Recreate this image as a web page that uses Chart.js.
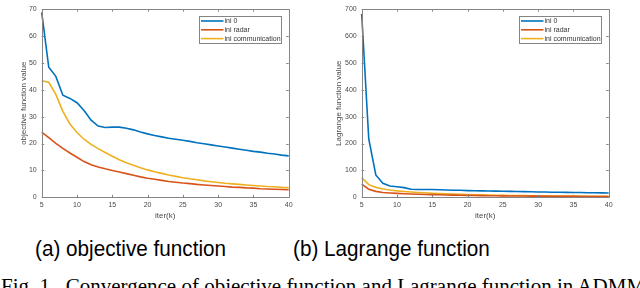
<!DOCTYPE html>
<html>
<head>
<meta charset="utf-8">
<script src="https://cdn.jsdelivr.net/npm/chart.js@4.4.0/dist/chart.umd.min.js"></script>
<style>
  body { margin: 0; background: #fff; width: 640px; height: 288px; overflow: hidden; position: relative; }
  canvas { position: absolute; top: 0; }
  .cap { position: absolute; font-family: "Liberation Sans", Arial, sans-serif; font-size: 22.5px; line-height: 1; color: #000; white-space: nowrap; transform-origin: 0 0; transform: scaleX(0.92); }
  .fig { position: absolute; font-family: "Liberation Serif", "Times New Roman", serif; font-size: 20px; line-height: 1; color: #000; white-space: nowrap; transform-origin: 0 0; transform: scaleX(1.05); }
</style>
</head>
<body>
<div style="position:absolute;left:0;top:0;width:320px;height:222px"><canvas id="objChart"></canvas></div>
<div style="position:absolute;left:320px;top:0;width:320px;height:222px"><canvas id="lagChart"></canvas></div>
<div class="cap" style="left:35px;top:238px">(a) objective function</div>
<div class="cap" style="left:293px;top:238px">(b) Lagrange function</div>
<div class="fig" style="left:1px;top:276px">Fig. 1.&nbsp;&nbsp;Convergence of objective function and Lagrange function in ADMM</div>
<script>
const iters = [5, 6, 7, 8, 9, 10, 11, 12, 13, 14, 15, 16, 17, 18, 19, 20, 21, 22,
  23, 24, 25, 26, 27, 28, 29, 30, 31, 32, 33, 34, 35, 36, 37, 38, 39, 40];

const seriesNames = ["ini 0", "ini radar", "ini communication"];

// (a) objective function value
const objIni0 = [68.8, 48.4, 45.0, 38.0, 36.8, 35.2, 32.3, 28.7, 26.5, 26.0, 26.1, 26.1,
  25.7, 25.1, 24.3, 23.6, 23.0, 22.5, 22.0, 21.6, 21.2, 20.8, 20.3, 19.9, 19.5, 19.1,
  18.7, 18.3, 17.9, 17.5, 17.1, 16.8, 16.4, 16.1, 15.7, 15.4];
const objRadar = [24.3, 22.2, 20.1, 18.2, 16.5, 14.9, 13.3, 12.1, 11.3, 10.6, 10.0, 9.4,
  8.8, 8.2, 7.6, 7.1, 6.7, 6.3, 5.9, 5.6, 5.3, 5.1, 4.8, 4.6, 4.4, 4.2, 4.0, 3.8, 3.7,
  3.5, 3.4, 3.2, 3.1, 3.0, 2.9, 2.8];
const objComm = [43.4, 42.8, 38.3, 32.0, 27.3, 24.1, 21.6, 19.7, 18.1, 16.7, 15.3, 14.0,
  12.9, 11.9, 11.0, 10.2, 9.5, 8.9, 8.3, 7.8, 7.3, 6.9, 6.5, 6.1, 5.8, 5.5, 5.2, 5.0,
  4.8, 4.6, 4.4, 4.2, 4.0, 3.9, 3.7, 3.6];

// (b) Lagrange function value
const lagIni0 = [682, 217, 83, 52, 42, 39, 36, 30, 29, 29, 29, 28, 27, 26.5, 26, 25,
  24.5, 24, 23.5, 23, 22.5, 22, 21.5, 21, 20.5, 20, 19.5, 19, 18.8, 18.4, 18, 17.6,
  17.2, 16.8, 16.4, 16];
const lagRadar = [49, 30, 22, 18, 16, 14.5, 13, 12, 11.3, 10.6, 10, 9.4, 8.8, 8.2,
  7.6, 7.1, 6.7, 6.3, 5.9, 5.6, 5.3, 5.1, 4.8, 4.6, 4.4, 4.2, 4, 3.8, 3.7, 3.5, 3.4,
  3.2, 3.1, 3, 2.9, 2.8];
const lagComm = [73, 47, 37, 31, 27, 24, 21.6, 19.7, 18.1, 16.7, 15.3, 14, 12.9, 11.9,
  11, 10.2, 9.5, 8.9, 8.3, 7.8, 7.3, 6.9, 6.5, 6.1, 5.8, 5.5, 5.2, 5, 4.8, 4.6, 4.4,
  4.2, 4, 3.9, 3.7, 3.6];

const xTicks = [5, 10, 15, 20, 25, 30, 35, 40];
const objYTicks = [0, 10, 20, 30, 40, 50, 60, 70];
const lagYTicks = [0, 100, 200, 300, 400, 500, 600, 700];

const lineColors = ["#0072BD", "#D95319", "#EDB120"];
const axisColor = "#858585";
const labelColor = "#4a4a4a";
const font = "Liberation Sans, Arial, sans-serif";

// MATLAB-like box, inward ticks and legend
const matlabBox = {
  id: "matlabBox",
  afterDraw: chart => {
    const ctx = chart.ctx;
    const a = chart.chartArea;
    const xs = chart.scales.x;
    const ys = chart.scales.y;

    ctx.save();
    ctx.strokeStyle = axisColor;
    ctx.lineWidth = 1;
    ctx.beginPath();
    ctx.rect(Math.round(a.left) + 0.5, Math.round(a.top) + 0.5,
      Math.round(a.right - a.left), Math.round(a.bottom - a.top));
    xs.ticks.forEach(t => {
      const x = Math.round(xs.getPixelForValue(t.value)) + 0.5;
      ctx.moveTo(x, a.bottom); ctx.lineTo(x, a.bottom - 2.5);
      ctx.moveTo(x, a.top); ctx.lineTo(x, a.top + 2.5);
    });
    ys.ticks.forEach(t => {
      const y = Math.round(ys.getPixelForValue(t.value)) + 0.5;
      ctx.moveTo(a.left, y); ctx.lineTo(a.left + 2.5, y);
      ctx.moveTo(a.right, y); ctx.lineTo(a.right - 2.5, y);
    });
    ctx.stroke();

    // legend
    const bx = Math.round(a.right) - 89.5, by = Math.round(a.top) + 7.5;
    const bw = 82, bh = 27;
    ctx.fillStyle = "#fff";
    ctx.fillRect(bx, by, bw, bh);
    ctx.strokeStyle = axisColor;
    ctx.strokeRect(bx, by, bw, bh);
    ctx.font = "7px " + font;
    ctx.textBaseline = "middle";
    chart.data.datasets.forEach((ds, i) => {
      const y = by + 4.5 + i * 8.8;
      ctx.strokeStyle = ds.borderColor;
      ctx.lineWidth = 1.6;
      ctx.beginPath();
      ctx.moveTo(bx + 1.5, y); ctx.lineTo(bx + 24, y);
      ctx.stroke();
      ctx.fillStyle = "#333";
      ctx.fillText(ds.label, bx + 25, y);
    });
    ctx.restore();
  }
};

// titleLeft: space left of the y title, so the title centre lands where the original has it
function makeChart(id, series, yTicks, yTitle, titleLeft) {
  return new Chart(document.getElementById(id), {
    type: "line",
    data: {
      datasets: series.map((vals, i) => ({
        label: seriesNames[i],
        data: iters.map((x, j) => ({ x: x, y: vals[j] })),
        borderColor: lineColors[i],
        borderWidth: 1.6,
        pointRadius: 0,
        tension: 0,
        clip: false
      }))
    },
    options: {
      responsive: true,
      maintainAspectRatio: false,
      animation: false,
      events: [],
      layout: { padding: { left: titleLeft, top: 2.5, right: 31.3, bottom: 0 } },
      plugins: { legend: { display: false }, tooltip: { enabled: false } },
      scales: {
        x: {
          type: "linear",
          min: 5, max: 40,
          afterBuildTicks: s => { s.ticks = xTicks.map(v => ({ value: v })); },
          afterFit: s => { s.height = 24.7; },
          grid: { display: false, drawTicks: false },
          border: { display: false },
          ticks: { color: labelColor, font: { family: font, size: 7 }, padding: 4, maxRotation: 0 },
          title: { display: true, text: "iter(k)", color: labelColor, font: { family: font, size: 8 }, padding: { top: 0, bottom: 1 } }
        },
        y: {
          min: yTicks[0], max: yTicks[yTicks.length - 1],
          afterBuildTicks: s => { s.ticks = yTicks.map(v => ({ value: v })); },
          afterFit: s => { s.width = 41.7 - titleLeft; },
          grid: { display: false, drawTicks: false },
          border: { display: false },
          ticks: { color: labelColor, font: { family: font, size: 7 }, padding: 5 },
          title: { display: true, text: yTitle, color: labelColor, font: { family: font, size: 8 }, padding: { top: 0, bottom: 0 } }
        }
      }
    },
    plugins: [matlabBox]
  });
}

makeChart("objChart", [objIni0, objRadar, objComm], objYTicks, "objective function value", 19.2);
makeChart("lagChart", [lagIni0, lagRadar, lagComm], lagYTicks, "Lagrange function value", 14.2);
</script>
</body>
</html>
